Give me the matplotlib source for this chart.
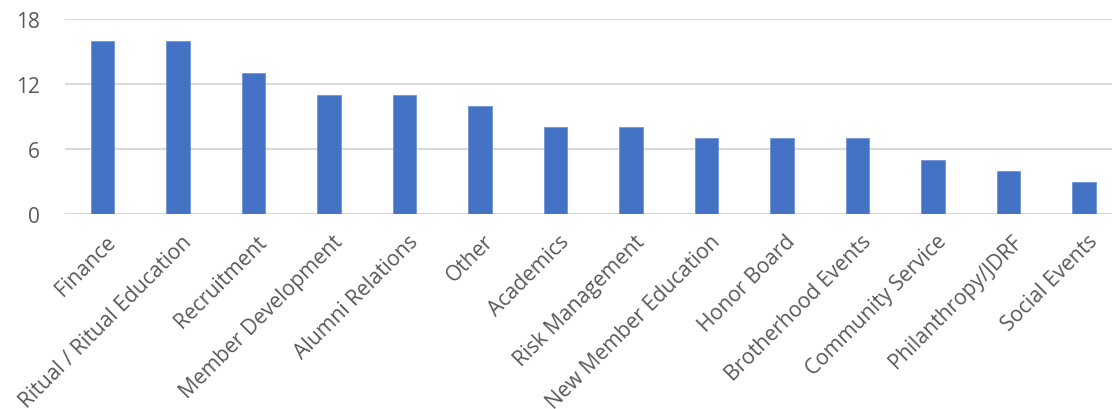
import matplotlib.pyplot as plt
import numpy as np

# committee areas and how many chapters flagged each one
areas = ["Finance", "Ritual / Ritual Education", "Recruitment", "Member Development",
         "Alumni Relations", "Other", "Academics", "Risk Management",
         "New Member Education", "Honor Board", "Brotherhood Events",
         "Community Service", "Philanthropy/JDRF", "Social Events"]
counts = [16, 16, 13, 11, 11, 10, 8, 8, 7, 7, 7, 5, 4, 3]
yticks = [0, 6, 12, 18]

plt.rcParams['font.family'] = ['Open Sans', 'DejaVu Sans']
txt = '#595959'

fig = plt.figure(figsize=(11.12, 4.10), dpi=100)
ax = fig.add_axes([0.0582, 0.4756, 0.9505, 0.4756])

x = np.arange(len(areas))
ax.bar(x, counts, width=0.31, color='#4472C4', edgecolor='#6f93d3', linewidth=0.6, zorder=3)

ax.set_xlim(-0.5, len(areas) - 0.5)
ax.set_ylim(0, 18)
ax.set_yticks(yticks)
ax.yaxis.grid(True, color='#D9D9D9', linewidth=1.5, zorder=0)
for s in ax.spines.values():
    s.set_visible(False)

ax.tick_params(axis='y', length=0, pad=18, labelsize=15, labelcolor=txt)
ax.tick_params(axis='x', length=0, pad=12)
ax.set_xticks(x)
ax.set_xticklabels(areas, rotation=45, ha='right', va='top', rotation_mode='anchor',
                   fontsize=15.2, color=txt)
# nudge the slanted labels a bit right so their ends sit under the bars
for lab in ax.get_xticklabels():
    lab.set_x(lab.get_position()[0])
    lab.set_transform(lab.get_transform() + plt.matplotlib.transforms.ScaledTranslation(0.03, 0, fig.dpi_scale_trans))

fig.savefig('out.png', dpi=100)
